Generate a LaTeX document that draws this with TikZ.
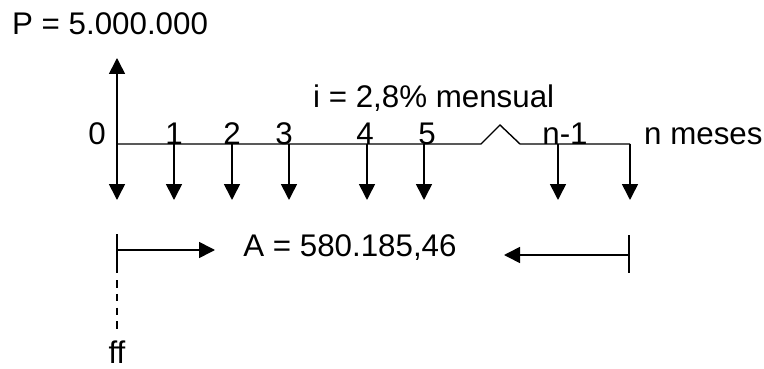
\documentclass[tikz,border=0pt]{standalone}
\usepackage{fontspec}
\setmainfont{Liberation Sans}
\usetikzlibrary{arrows.meta}
\begin{document}
\begin{tikzpicture}[x=1pt,y=-1pt,
  lbl/.style={inner sep=0pt,anchor=base,font=\fontsize{31.3}{34}\selectfont},
  lblw/.style={lbl,anchor=base west},
  flow/.style={line width=1.6pt,-{Triangle[length=16pt,width=16pt]}},
  axis/.style={line width=1.4pt},
  brk/.style={line width=1.6pt}]
\useasboundingbox (0,0) rectangle (764,369);
% timeline points
\foreach \n/\x in {t0/117,t1/174,t2/232,t3/289,t4/367,t5/424,tm/558,tn/630}{
  \coordinate (\n) at (\x,144);
  \coordinate (\n d) at (\x,200);
}
\coordinate (z1) at (481,144);
\coordinate (z2) at (500,125);
\coordinate (z3) at (520,144);
\coordinate (up) at (117,58);
% axis with break
\draw[axis] (t0) -- (z1) -- (z2) -- (z3) -- (tn);
% arrows
\draw[flow] (t0) -- (up);
\foreach \n in {t0,t1,t2,t3,t4,t5,tm,tn}{\draw[flow] (\n) -- (\n d);}
% labels
\node[lblw] (P) at (12,35) {P = 5.000.000};
\node[lblw] (i) at (313,108) {i = 2,8\% mensual};
\node[lbl] (l0) at (97,145) {0};
\node[lbl] (l1) at (174,145) {1};
\node[lbl] (l2) at (232,145) {2};
\node[lbl] (l3) at (284,145) {3};
\node[lbl] (l4) at (365,145) {4};
\node[lbl] (l5) at (427,145) {5};
\node[lbl] (lm) at (565,145) {n-1};
\node[lblw] (ln) at (644,145) {n meses};
% bottom brackets
\coordinate (bl1) at (117,234);
\coordinate (bl2) at (117,273);
\coordinate (bds) at (117,280);
\coordinate (bl) at (117,250);
\coordinate (blt) at (215,250);
\coordinate (br1) at (629,235);
\coordinate (br2) at (629,273);
\coordinate (br) at (629,255);
\coordinate (brt) at (504,255);
\coordinate (ffd) at (117,331);
\draw[brk] (bl1) -- (bl2);
\draw[brk] (br1) -- (br2);
\draw[flow] (bl) -- (blt);
\draw[flow] (br) -- (brt);
\draw[line width=1.7pt,dash pattern=on 7.5pt off 6.3pt] (bds) -- (ffd);
\node[lbl] (A) at (350,256) {A = 580.185,46};
\node[lbl] (ff) at (117,363) {ff};
\end{tikzpicture}
\end{document}
